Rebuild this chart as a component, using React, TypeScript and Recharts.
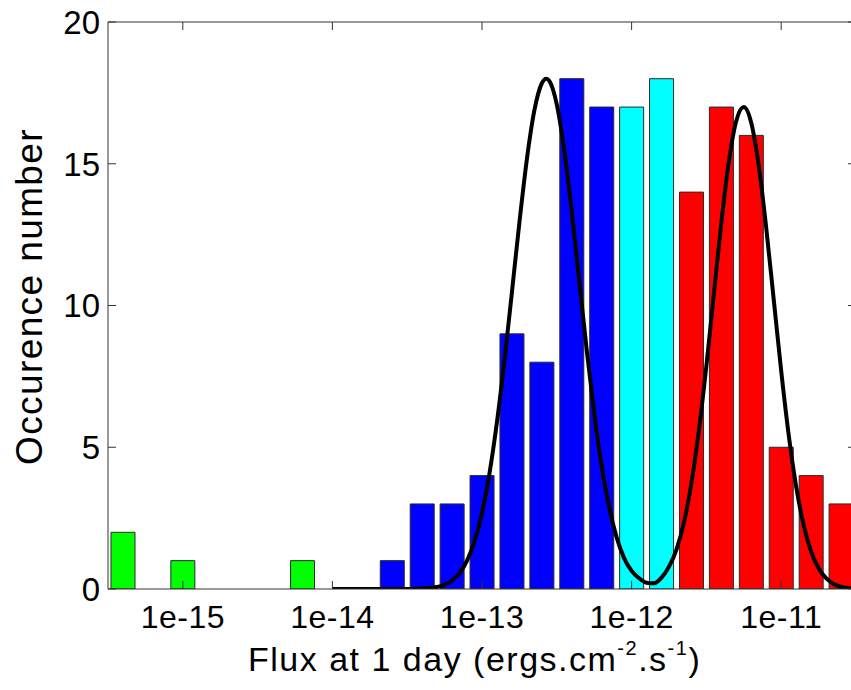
import React from 'react';
import { ComposedChart, Bar, Line, XAxis, YAxis, Cell } from 'recharts';

// log10 of flux at bin centres (0.2 dex bins)
const binCenters = [
  -15.4, -15.2, -15.0, -14.8, -14.6, -14.4, -14.2, -14.0, -13.8, -13.6, -13.4, -13.2, -13.0,
  -12.8, -12.6, -12.4, -12.2, -12.0, -11.8, -11.6, -11.4, -11.2, -11.0, -10.8, -10.6,
];
const counts = [2, 0, 1, 0, 0, 0, 1, 0, 0, 1, 3, 3, 4, 9, 8, 18, 17, 17, 18, 14, 17, 16, 5, 4, 3];
const groups = [
  'g', 'g', 'g', 'g', 'g', 'g', 'g', 'g', 'g', 'b', 'b', 'b', 'b',
  'b', 'b', 'b', 'b', 'c', 'c', 'r', 'r', 'r', 'r', 'r', 'r',
];
const groupColors: Record<string, string> = { g: '#00ff00', b: '#0000ff', c: '#00ffff', r: '#ff0000' };

// fitted curve
const curveX = [
  -14.0, -13.8, -13.6, -13.5, -13.4, -13.3, -13.25, -13.2, -13.15, -13.1, -13.05, -13.0, -12.95,
  -12.9, -12.85, -12.8, -12.75, -12.7, -12.65, -12.6, -12.57, -12.55, -12.5, -12.45, -12.4, -12.35,
  -12.3, -12.25, -12.2, -12.15, -12.1, -12.05, -12.0, -11.95, -11.9, -11.85, -11.8, -11.75, -11.7,
  -11.65, -11.6, -11.55, -11.5, -11.45, -11.4, -11.35, -11.3, -11.25, -11.2, -11.15, -11.1, -11.05,
  -11.0, -10.95, -10.9, -10.85, -10.8, -10.75, -10.7, -10.65, -10.6, -10.55, -10.5,
];
const curveY = [
  0, 0, 0, 0, 0.02, 0.07, 0.15, 0.3, 0.56, 1.0, 1.68, 2.69, 4.08,
  5.89, 8.06, 10.47, 12.93, 15.16, 16.88, 17.84, 18.0, 17.92, 17.09, 15.47, 13.31, 10.87,
  8.43, 6.21, 4.34, 2.89, 1.82, 1.09, 0.64, 0.38, 0.22, 0.2, 0.4, 0.79, 1.39,
  2.35, 3.74, 5.6, 7.88, 10.41, 12.93, 15.08, 16.52, 17.0, 16.44, 14.93, 12.73, 10.21,
  7.69, 5.44, 3.61, 2.26, 1.32, 0.73, 0.38, 0.18, 0.08, 0.03, 0.01,
];

const xTicks = [-15, -14, -13, -12, -11];
const yTicks = [0, 5, 10, 15, 20];

const barData = binCenters.map((x, i) => ({ lx: x, count: counts[i], grp: groups[i] }));
const curveData = curveX.map((x, i) => ({ lx: x, fit: curveY[i] }));

const FONT = '"Liberation Sans", Arial, Helvetica, sans-serif';
const AXIS = '#333333';

const BottomTick = (props: any) => {
  const { x, y, payload } = props;
  return (
    <g>
      <line x1={x} x2={x} y1={y} y2={y - 8} stroke={AXIS} strokeWidth={1} />
      <text x={x} y={y + 39} textAnchor="middle" fontSize={32} letterSpacing={0.5} fontFamily={FONT} fill="#000">
        {`1e${payload.value}`}
      </text>
    </g>
  );
};

const TopTick = (props: any) => {
  const { x, y } = props;
  return <line x1={x} x2={x} y1={y} y2={y + 8} stroke={AXIS} strokeWidth={1} />;
};

const LeftTick = (props: any) => {
  const { x, y, payload } = props;
  return (
    <g>
      <line x1={x} x2={x + 8} y1={y} y2={y} stroke={AXIS} strokeWidth={1} />
      <text x={x - 8} y={y} dy="0.36em" textAnchor="end" fontSize={33} fontFamily={FONT} fill="#000">
        {payload.value}
      </text>
    </g>
  );
};

const RightTick = (props: any) => {
  const { x, y } = props;
  return <line x1={x} x2={x - 8} y1={y} y2={y} stroke={AXIS} strokeWidth={1} />;
};

const XTitle = () => (
  <text x={248} y={671} textAnchor="start" fontSize={34} letterSpacing={1.5} fontFamily={FONT} fill="#000">
    Flux at 1 day (ergs.cm
    <tspan dy={-16} fontSize={20}>-2</tspan>
    <tspan dy={16}>.s</tspan>
    <tspan dy={-16} fontSize={20}>-1</tspan>
    <tspan dy={16}>)</tspan>
  </text>
);

const YTitle = () => (
  <text
    x={42}
    y={296.5}
    transform="rotate(-90 42 296.5)"
    textAnchor="middle"
    fontSize={37}
    letterSpacing={1.4}
    fontFamily={FONT}
    fill="#000"
  >
    Occurence number
  </text>
);

export default function App() {
  return (
    <div style={{ position: 'fixed', left: 0, top: 0, width: 851, height: 690, overflow: 'hidden', background: '#fff' }}>
      <ComposedChart
        width={900}
        height={690}
        data={barData}
        margin={{ top: 21, right: 43, bottom: 100, left: 107 }}
      >
        <XAxis
          xAxisId="bottom"
          dataKey="lx"
          type="number"
          domain={[-15.5, -10.5]}
          allowDataOverflow
          ticks={xTicks}
          height={1}
          tickSize={0}
          tickMargin={0}
          tickLine={false}
          axisLine={{ stroke: AXIS, strokeWidth: 1 }}
          tick={<BottomTick />}
          interval={0}
          label={<XTitle />}
        />
        <XAxis
          xAxisId="top"
          orientation="top"
          dataKey="lx"
          type="number"
          domain={[-15.5, -10.5]}
          allowDataOverflow
          ticks={xTicks}
          height={1}
          tickSize={0}
          tickMargin={0}
          tickLine={false}
          axisLine={{ stroke: AXIS, strokeWidth: 1 }}
          tick={<TopTick />}
          interval={0}
        />
        <YAxis
          yAxisId="left"
          type="number"
          domain={[0, 20]}
          allowDataOverflow
          ticks={yTicks}
          width={1}
          tickSize={0}
          tickMargin={0}
          tickLine={false}
          axisLine={{ stroke: AXIS, strokeWidth: 1 }}
          tick={<LeftTick />}
          interval={0}
          label={<YTitle />}
        />
        <YAxis
          yAxisId="right"
          orientation="right"
          type="number"
          domain={[0, 20]}
          allowDataOverflow
          ticks={yTicks}
          width={1}
          tickSize={0}
          tickMargin={0}
          tickLine={false}
          axisLine={{ stroke: AXIS, strokeWidth: 1 }}
          tick={<RightTick />}
          interval={0}
        />
        <Bar
          xAxisId="bottom"
          yAxisId="left"
          dataKey="count"
          barSize={24}
          stroke="#2a2a2a"
          strokeWidth={1}
          isAnimationActive={false}
        >
          {barData.map((d, i) => (
            <Cell key={i} fill={groupColors[d.grp]} />
          ))}
        </Bar>
        <Line
          xAxisId="top"
          yAxisId="left"
          data={curveData}
          dataKey="fit"
          type="monotone"
          stroke="#000"
          strokeWidth={4}
          dot={false}
          activeDot={false}
          isAnimationActive={false}
        />
      </ComposedChart>
    </div>
  );
}
